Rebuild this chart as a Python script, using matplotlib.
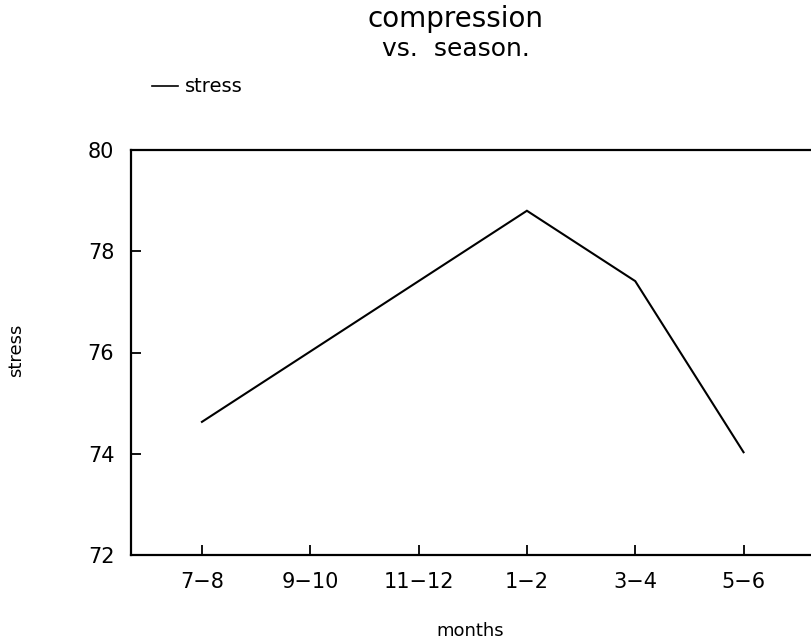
import matplotlib
matplotlib.use("Agg")
import matplotlib.pyplot as plt
from matplotlib.lines import Line2D

months = ["7\u22128", "9\u221210", "11\u221212", "1\u22122", "3\u22124", "5\u22126"]
stress = [74.63, 76.02, 77.41, 78.80, 77.41, 74.03]
y_ticks = [72, 74, 76, 78, 80]

plt.rcParams["font.family"] = ["DejaVu Sans"]

W, H = 812, 642
fig = plt.figure(figsize=(W / 100, H / 100), dpi=100)
left, right, top, bottom = 131, 814.5, 150, 555
ax = fig.add_axes([left / W, 1 - bottom / H, (right - left) / W, (bottom - top) / H])

x = list(range(len(months)))
ax.plot(x, stress, color="black", lw=1.5, solid_joinstyle="miter")

ax.set_xlim(-0.655, 5.655)
ax.set_ylim(72, 80)
ax.set_xticks(x)
ax.set_xticklabels(months)
ax.set_yticks(y_ticks)
ax.tick_params(direction="in", length=7, width=1.3, labelsize=15, colors="black")
ax.tick_params(axis="x", pad=12)
ax.tick_params(axis="y", pad=12)
for s in ["left", "bottom", "top"]:
    ax.spines[s].set_linewidth(1.6)
ax.spines["right"].set_visible(False)

fig.text(456 / W, 1 - 19 / H, "compression", ha="center", va="center", fontsize=20)
fig.text(456 / W, 1 - 49 / H, "vs.  season.", ha="center", va="center", fontsize=18)
fig.text(16 / W, 1 - 350 / H, "stress", ha="center", va="center", rotation=90, fontsize=13)
fig.text(470 / W, 1 - 631 / H, "months", ha="center", va="center", fontsize=13)

# legend entry
fig.add_artist(Line2D([152 / W, 178 / W], [1 - 86 / H, 1 - 86 / H], color="black", lw=1.2))
fig.text(185 / W, 1 - 87 / H, "stress", ha="left", va="center", fontsize=14)

fig.savefig("out.png", dpi=100)
